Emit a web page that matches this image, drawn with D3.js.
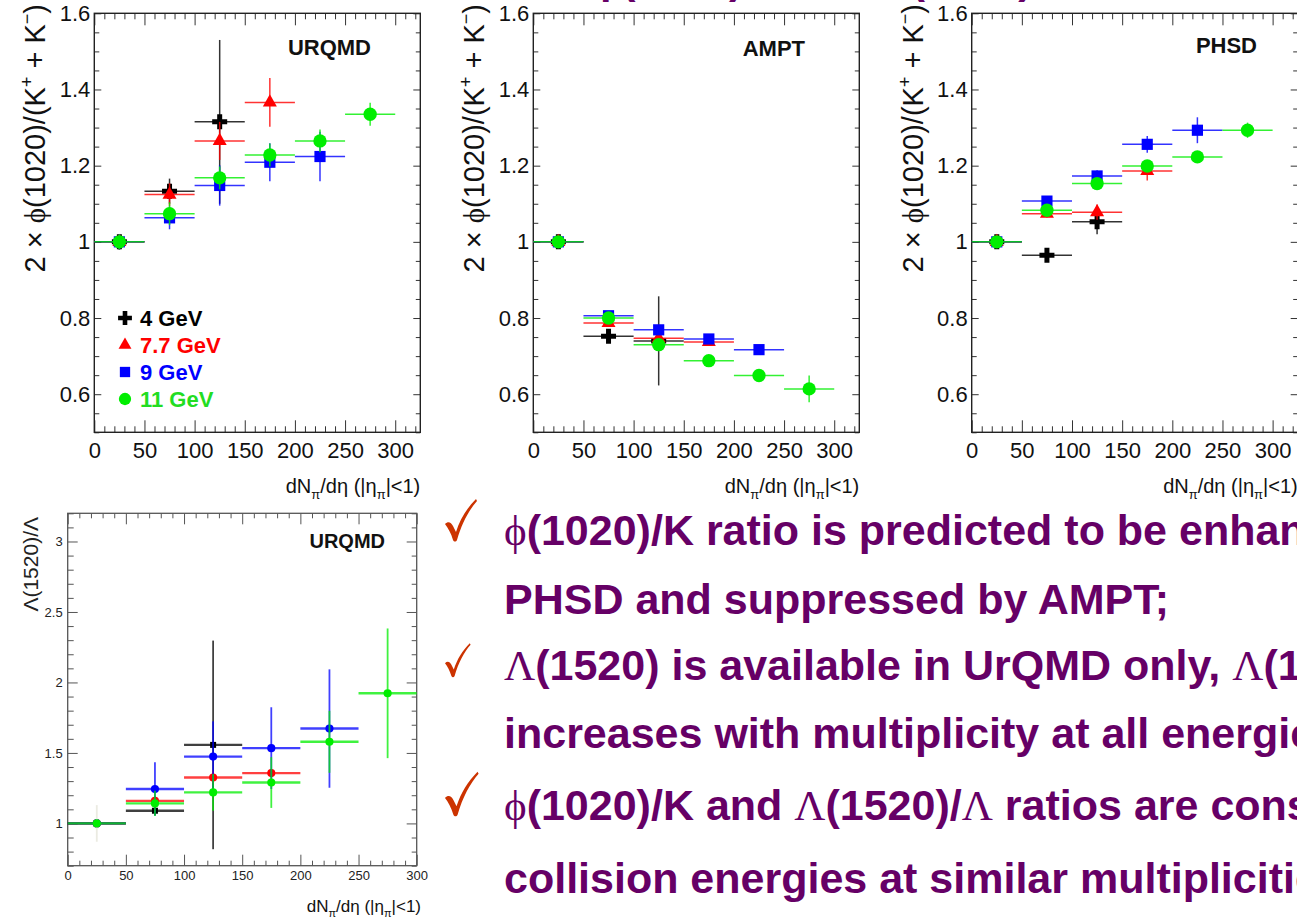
<!DOCTYPE html>
<html>
<head>
<meta charset="utf-8">
<script src="https://cdn.jsdelivr.net/npm/d3@7"></script>
<style>
body { margin: 0; background: #fff; }
svg { display: block; font-family: "Liberation Sans", Arial, Helvetica, sans-serif; }
</style>
</head>
<body>
<svg id="slide" width="1297" height="918"></svg>
<script>
// multiplicity bins (centres, half width) shared by all panels
var binCentres = [25, 75, 125, 175, 225, 275];
var binHalfWidth = 25;
var energies = ["4 GeV", "7.7 GeV", "9 GeV", "11 GeV"];

// 2 x phi(1020)/(K+ + K-) -- URQMD
var urqmd4 = [1.00, 1.133, 1.315, null, null, null];
var urqmd4Err = [0.02, 0.033, 0.215, null, null, null];
var urqmd77 = [1.00, 1.124, 1.265, 1.366, null, null];
var urqmd77Err = [0.02, 0.03, 0.05, 0.064, null, null];
var urqmd9 = [1.00, 1.063, 1.148, 1.209, 1.224, null];
var urqmd9Err = [0.02, 0.03, 0.053, 0.05, 0.065, null];
var urqmd11 = [1.00, 1.074, 1.168, 1.228, 1.265, 1.335];
var urqmd11Err = [0.02, 0.03, 0.03, 0.03, 0.03, 0.03];

// AMPT
var ampt4 = [1.00, 0.752, 0.740, null, null, null];
var ampt4Err = [0.01, 0.01, 0.117, null, null, null];
var ampt77 = [1.00, 0.787, 0.747, 0.737, null, null];
var ampt77Err = [0.01, 0.01, 0.01, 0.01, null, null];
var ampt9 = [1.00, 0.806, 0.769, 0.745, 0.717, null];
var ampt9Err = [0.01, 0.01, 0.01, 0.01, 0.01, null];
var ampt11 = [1.00, 0.800, 0.730, 0.688, 0.649, 0.614];
var ampt11Err = [0.01, 0.01, 0.01, 0.01, 0.017, 0.035];

// PHSD
var phsd4 = [1.00, 0.965, 1.053, null, null, null];
var phsd4Err = [0.01, 0.01, 0.033, null, null, null];
var phsd77 = [1.00, 1.074, 1.078, 1.186, null, null];
var phsd77Err = [0.01, 0.01, 0.02, 0.025, null, null];
var phsd9 = [1.00, 1.107, 1.173, 1.256, 1.293, null];
var phsd9Err = [0.01, 0.01, 0.015, 0.022, 0.034, null];
var phsd11 = [1.00, 1.083, 1.153, 1.199, 1.223, 1.293];
var phsd11Err = [0.01, 0.01, 0.01, 0.01, 0.015, 0.02];

// Lambda(1520)/Lambda -- URQMD
var lam4 = [1.00, 1.09, 1.557, null, null, null];
var lam4Err = [0, 0.03, 0.74, null, null, null];
var lam77 = [1.00, 1.16, 1.326, 1.357, null, null];
var lam77Err = [0, 0.03, 0.05, 0.03, null, null];
var lam9 = [1.00, 1.244, 1.474, 1.534, 1.673, null];
var lam9Err = [0, 0.19, 0.25, 0.29, 0.42, null];
var lam11 = [1.00, 1.142, 1.22, 1.29, 1.579, 1.923];
var lam11Err = [0.13, 0.09, 0.13, 0.18, 0.22, 0.46];

// tick labels
var phiXTicks = [0, 50, 100, 150, 200, 250, 300];
var phiYTicks = [0.6, 0.8, 1.0, 1.2, 1.4, 1.6];
var lamXTicks = [0, 50, 100, 150, 200, 250, 300];
var lamYTicks = [1, 1.5, 2, 2.5, 3];

var energyColors = ["#000000", "#ff0000", "#0000ff", "#00ee00"];
var energySymbols = [d3.symbolCross, d3.symbolTriangle, d3.symbolSquare, d3.symbolCircle];
var symbolSizes = [125, 85, 125, 140];

var purple = "#660066";
var serif = "'Liberation Serif', 'DejaVu Serif', 'Times New Roman', serif";

var svg = d3.select("#slide");

// slide title, only its descenders reach into the picture
svg.append("text")
    .attr("x", 590).attr("y", -7)
    .attr("font-size", 42).attr("font-weight", "bold").attr("fill", purple)
    .text("ϕ(1020)/K and Λ(1520)/Λ ratios vs. multiplicity (transport)");

function drawAxes(g, x, y, o) {
    var xb = y.range()[0], xt = y.range()[1], yl = x.range()[0], yr = x.range()[1];

    function style(sel, fs) {
        sel.attr("font-size", fs).attr("font-family", null).style("color", o.tickColor);
        sel.select(".domain").remove();
    }

    // bottom
    g.append("g").attr("transform", "translate(0," + xb + ")")
        .call(d3.axisBottom(x).tickValues(o.xMinor).tickSize(-o.xMinLen).tickSizeOuter(0).tickFormat(""))
        .call(style, o.font);
    g.append("g").attr("transform", "translate(0," + xb + ")")
        .call(d3.axisBottom(x).tickValues(o.xMajor).tickSize(-o.xMajLen).tickSizeOuter(0).tickPadding(o.xPad).tickFormat(d3.format("d")))
        .call(style, o.font)
        .selectAll("text").attr("fill", o.labelColor);
    // top
    g.append("g").attr("transform", "translate(0," + xt + ")")
        .call(d3.axisTop(x).tickValues(o.xMinor).tickSize(-o.xMinLen).tickSizeOuter(0).tickFormat(""))
        .call(style, o.font);
    g.append("g").attr("transform", "translate(0," + xt + ")")
        .call(d3.axisTop(x).tickValues(o.xMajor).tickSize(-o.xMajLen).tickSizeOuter(0).tickFormat(""))
        .call(style, o.font);
    // left
    g.append("g").attr("transform", "translate(" + yl + ",0)")
        .call(d3.axisLeft(y).tickValues(o.yMinor).tickSize(-o.yMinLen).tickSizeOuter(0).tickFormat(""))
        .call(style, o.font);
    g.append("g").attr("transform", "translate(" + yl + ",0)")
        .call(d3.axisLeft(y).tickValues(o.yMajor).tickSize(-o.yMajLen).tickSizeOuter(0).tickPadding(o.yPad).tickFormat(function (d) { return String(+d.toFixed(2)); }))
        .call(style, o.font)
        .selectAll("text").attr("fill", o.labelColor);
    // right
    g.append("g").attr("transform", "translate(" + yr + ",0)")
        .call(d3.axisRight(y).tickValues(o.yMinor).tickSize(-o.yMinLenR).tickSizeOuter(0).tickFormat(""))
        .call(style, o.font);
    g.append("g").attr("transform", "translate(" + yr + ",0)")
        .call(d3.axisRight(y).tickValues(o.yMajor).tickSize(-o.yMajLenR).tickSizeOuter(0).tickFormat(""))
        .call(style, o.font);

    g.append("rect")
        .attr("x", yl).attr("y", xt)
        .attr("width", yr - yl).attr("height", xb - xt)
        .attr("fill", "none").attr("stroke", o.frameColor).attr("stroke-width", o.frameWidth);
}

function xTitle(g, xEnd, yBase, fs, sub) {
    var t = g.append("text").attr("x", xEnd).attr("y", yBase)
        .attr("text-anchor", "end").attr("font-size", fs).attr("fill", "#111");
    t.append("tspan").text("dN");
    t.append("tspan").attr("font-size", sub).attr("dy", fs * 0.3).text("π");
    t.append("tspan").attr("dy", -fs * 0.3).text("/dη (|η");
    t.append("tspan").attr("font-size", sub).attr("dy", fs * 0.3).text("π");
    t.append("tspan").attr("dy", -fs * 0.3).text("|<1)");
}

function drawSeries(g, x, y, values, errs, i, o) {
    var pts = binCentres.map(function (c, k) { return { c: c, v: values[k], e: errs[k] }; })
        .filter(function (p) { return p.v !== null; });
    var col = energyColors[i];
    var s = g.append("g");
    s.selectAll("line.h").data(pts).enter().append("line")
        .attr("x1", function (p) { return x(p.c - binHalfWidth); })
        .attr("x2", function (p) { return x(p.c + binHalfWidth); })
        .attr("y1", function (p) { return y(p.v); })
        .attr("y2", function (p) { return y(p.v); })
        .attr("stroke", col).attr("stroke-opacity", o.barOpacity).attr("stroke-width", o.hWidth);
    s.selectAll("line.v").data(pts.filter(function (p) { return p.e > 0; })).enter().append("line")
        .attr("x1", function (p) { return x(p.c); })
        .attr("x2", function (p) { return x(p.c); })
        .attr("y1", function (p) { return y(p.v - p.e); })
        .attr("y2", function (p) { return y(p.v + p.e); })
        .attr("stroke", function (p) { return o.faintFirst && p.c === binCentres[0] ? "#e4e4d8" : col; })
        .attr("stroke-opacity", o.barOpacity).attr("stroke-width", o.vWidth);
    s.selectAll("path").data(pts).enter().append("path")
        .attr("transform", function (p) { return "translate(" + x(p.c) + "," + y(p.v) + ")"; })
        .attr("d", d3.symbol().type(o.symbols ? o.symbols[i] : energySymbols[i]).size(o.sizes ? o.sizes[i] : symbolSizes[i]))
        .attr("fill", col);
}

// ---- the three phi/K panels ----
var phiPanels = [
    { label: "URQMD", left: 94.3, labelEnd: 371, labelY: 55, data: [urqmd4, urqmd77, urqmd9, urqmd11], errs: [urqmd4Err, urqmd77Err, urqmd9Err, urqmd11Err] },
    { label: "AMPT", left: 533.3, labelEnd: 805, labelY: 56, data: [ampt4, ampt77, ampt9, ampt11], errs: [ampt4Err, ampt77Err, ampt9Err, ampt11Err] },
    { label: "PHSD", left: 971.7, labelEnd: 1257, labelY: 53, data: [phsd4, phsd77, phsd9, phsd11], errs: [phsd4Err, phsd77Err, phsd9Err, phsd11Err] }
];

var phiYMinor = d3.range(0, 23).map(function (i) { return +(0.5 + i * 0.05).toFixed(2); })
    .filter(function (v) { return Math.abs(v * 5 - Math.round(v * 5)) > 1e-6; });
var phiXMinor = d3.range(0, 326, 10).filter(function (v) { return v % 50 !== 0; });

phiPanels.forEach(function (p) {
    var g = svg.append("g");
    var x = d3.scaleLinear().domain([0, 325]).range([p.left, p.left + 326]);
    var y = d3.scaleLinear().domain([0.5, 1.6]).range([432.3, 13.3]);

    drawAxes(g, x, y, {
        xMajor: phiXTicks, xMinor: phiXMinor, yMajor: phiYTicks, yMinor: phiYMinor,
        xMajLen: 12, xMinLen: 6, yMajLen: 7, yMinLen: 5, yMajLenR: 7, yMinLenR: 4.5,
        xPad: 10, yPad: 4, font: 22, tickColor: "#333", labelColor: "#111",
        frameColor: "#222", frameWidth: 1.4
    });

    for (var i = 0; i < 4; i++) {
        drawSeries(g, x, y, p.data[i], p.errs[i], i, { barOpacity: 0.8, hWidth: 1.5, vWidth: 1.5 });
    }

    g.append("text").attr("x", p.labelEnd).attr("y", p.labelY)
        .attr("text-anchor", "end").attr("font-size", 22).attr("font-weight", "bold").attr("fill", "#111")
        .text(p.label);

    var yt = g.append("text")
        .attr("transform", "translate(" + (p.left - 49) + ",4) rotate(-90)")
        .attr("text-anchor", "end").attr("font-size", 29).attr("fill", "#111");
    yt.append("tspan").text("2 × ");
    yt.append("tspan").attr("font-family", serif).text("ϕ");
    yt.append("tspan").text("(1020)/(K");
    yt.append("tspan").attr("font-size", 18).attr("dy", -12).text("+");
    yt.append("tspan").attr("dy", 12).text(" + K");
    yt.append("tspan").attr("font-size", 18).attr("dy", -12).text("−");
    yt.append("tspan").attr("dy", 12).text(")");

    xTitle(g, p.left + 326, 493, 20, 13);
});

// legend in the URQMD panel
var legend = svg.append("g").selectAll("g").data(energies).enter().append("g")
    .attr("transform", function (d, i) { return "translate(125," + (318 + i * 27) + ")"; });
legend.append("path")
    .attr("d", function (d, i) { return d3.symbol().type(energySymbols[i]).size(symbolSizes[i] * 0.85)(); })
    .attr("fill", function (d, i) { return energyColors[i]; });
legend.append("text")
    .attr("x", 15).attr("dy", "0.36em")
    .attr("font-size", 22).attr("font-weight", "bold")
    .attr("fill", function (d, i) { return i === 3 ? "#22dd22" : energyColors[i]; })
    .text(function (d) { return d; });

// ---- Lambda(1520)/Lambda panel ----
(function () {
    var g = svg.append("g");
    var x = d3.scaleLinear().domain([0, 300]).range([67.7, 416.7]);
    var y = d3.scaleLinear().domain([0.7, 3.2]).range([865.7, 513.3]);
    var yMinor = d3.range(0, 26).map(function (i) { return +(0.7 + i * 0.1).toFixed(1); })
        .filter(function (v) { return Math.abs(v * 2 - Math.round(v * 2)) > 1e-6; });
    var xMinor = d3.range(0, 301, 10).filter(function (v) { return v % 50 !== 0; });

    drawAxes(g, x, y, {
        xMajor: lamXTicks, xMinor: xMinor, yMajor: lamYTicks, yMinor: yMinor,
        xMajLen: 11, xMinLen: 5, yMajLen: 10, yMinLen: 6, yMajLenR: 10, yMinLenR: 5,
        xPad: 5, yPad: 5, font: 13, tickColor: "#555", labelColor: "#222",
        frameColor: "#555", frameWidth: 1.3
    });

    var data = [lam4, lam77, lam9, lam11], errs = [lam4Err, lam77Err, lam9Err, lam11Err];
    for (var i = 0; i < 4; i++) {
        drawSeries(g, x, y, data[i], errs[i], i, {
            barOpacity: 0.75, hWidth: 2.4, vWidth: 1.8, faintFirst: true,
            symbols: [d3.symbolSquare, d3.symbolCircle, d3.symbolCircle, d3.symbolCircle],
            sizes: [36, 52, 52, 52]
        });
    }

    g.append("text").attr("x", 385).attr("y", 548)
        .attr("text-anchor", "end").attr("font-size", 20).attr("font-weight", "bold").attr("fill", "#111")
        .text("URQMD");

    g.append("text")
        .attr("transform", "translate(38,517) rotate(-90)")
        .attr("text-anchor", "end").attr("font-size", 21).attr("fill", "#222")
        .text("Λ(1520)/Λ");

    xTitle(g, 421, 912, 17, 11);
})();

// ---- bullet text ----
var bullets = [
    { y: 545, check: 1.0, parts: [["ϕ", serif], ["(1020)/K ratio is predicted to be enhanced by UrQMD and", null]] },
    { y: 614, check: 0, parts: [["PHSD and suppressed by AMPT;", null]] },
    { y: 680, check: 0.8, parts: [["Λ", serif], ["(1520) is available in UrQMD only, ", null], ["Λ", serif], ["(1520)/", null], ["Λ", serif], [" ratio", null]] },
    { y: 748, check: 0, parts: [["increases with multiplicity at all energies;", null]] },
    { y: 820, check: 1.05, parts: [["ϕ", serif], ["(1020)/K and ", null], ["Λ", serif], ["(1520)/", null], ["Λ", serif], [" ratios are consistent at different", null]] },
    { y: 893, check: 0, parts: [["collision energies at similar multiplicities", null]] }
];

// brush-like check mark, 30 x 42
var checkPath = "M0,25 C3,22 6,23 8,27 L11,33 C15,20 22,9 31,0 L32,2 C24,11 17,24 12,41 C11,43 9,43 8,41 C6,34 3,29 0,25 Z";

bullets.forEach(function (b) {
    if (b.check) {
        svg.append("path")
            .attr("d", checkPath)
            .attr("transform", "translate(445," + (b.y - 46 * b.check) + ") scale(" + b.check + ")")
            .attr("fill", "#cc3300");
    }
    var t = svg.append("text").attr("x", 504).attr("y", b.y)
        .attr("font-size", 43).attr("font-weight", "bold").attr("fill", purple);
    b.parts.forEach(function (p) {
        var ts = t.append("tspan").text(p[0]);
        if (p[1]) ts.attr("font-family", p[1]).attr("font-weight", "normal");
    });
});
</script>
</body>
</html>
